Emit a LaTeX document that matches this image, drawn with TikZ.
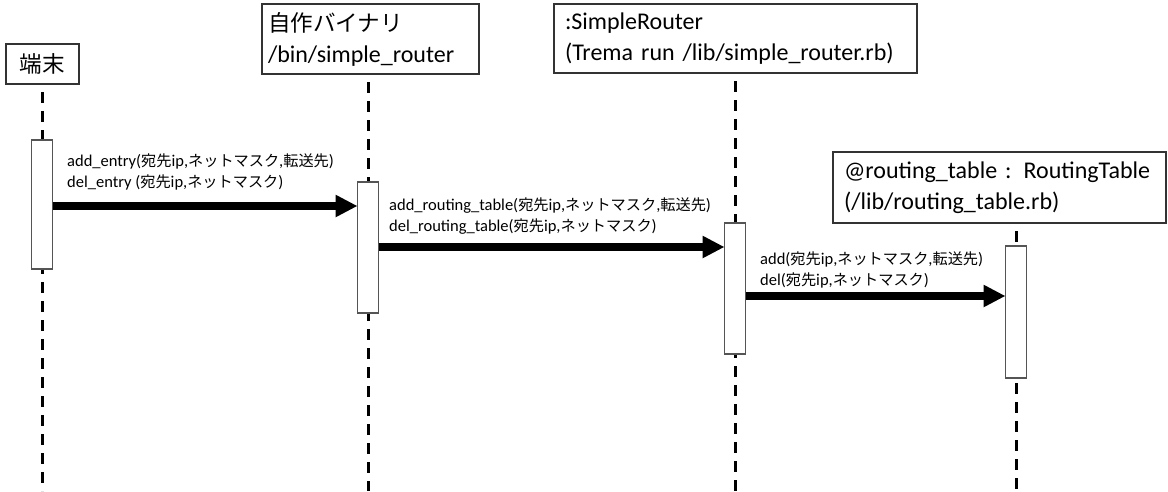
\documentclass[tikz,border=0pt]{standalone}
\usepackage{fontspec}
\setmainfont{Carlito}
\newfontfamily\jplabel[Scale=0.92]{Noto Sans CJK JP}
\newfontfamily\jphead[Scale=0.94]{Noto Sans CJK JP}
\newcommand{\ja}[1]{{\jplabel #1}}
\newcommand{\jh}[1]{{\jphead #1}}
\usetikzlibrary{arrows.meta, positioning}
\definecolor{boxline}{HTML}{333333}
\definecolor{actline}{HTML}{555555}
\tikzset{
  objbox/.style  = {rectangle, draw=boxline, line width=1.5pt, fill=white, align=left,
                    anchor=north west, outer sep=0pt, inner ysep=0pt,
                    font=\fontsize{24}{31}\selectfont},
  actbox/.style  = {rectangle, draw=actline, line width=1.2pt, fill=white, anchor=north,
                    minimum width=21pt, inner sep=0pt, outer sep=0pt},
  msglbl/.style  = {anchor=west, align=left, inner sep=4pt, font=\fontsize{16.5}{20.5}\selectfont},
  msg/.style     = {-{Triangle[length=22pt, width=21pt]}, line width=7.5pt},
  lifeline/.style= {line width=3pt, dash pattern=on 11pt off 8pt, dash phase=11pt},
}
\begin{document}
\begin{tikzpicture}[x=1pt, y=-1pt]
\useasboundingbox (0,0) rectangle (1168,491);
% objects
\node[objbox, align=center, minimum width=73pt, minimum height=40pt] (h1) at (6,44) {\jh{端末}};
\node[objbox, inner xsep=6pt, text width=205pt, minimum height=70pt] (h2) at (262,4)
  {\jh{自作バイナリ}\\/bin/simple\_router};
\node[objbox, inner xsep=11pt, text width=341pt, minimum height=69pt] (h3) at (554,4)
  {:SimpleRouter\\(Trema run /lib/simple\_router.rb)};
\node[objbox, inner xsep=11pt, text width=311pt, minimum height=71pt] (h4) at (833,152)
  {@routing\_table : RoutingTable\\(/lib/routing\_table.rb)};
% lifelines
\foreach \i/\x in {1/42,2/368,3/735,4/1016}{
  \draw[lifeline] (h\i.south -| \x,0) -- (\x,491);
}
% activations
\node[actbox, minimum height=129pt] (a1) at (42,140) {};
\node[actbox, minimum height=131pt] (a2) at (368,182) {};
\node[actbox, minimum height=131pt] (a3) at (735,223) {};
\node[actbox, minimum height=132pt] (a4) at (1016,246) {};
% messages
\coordinate (m1) at (0,206);
\coordinate (m2) at (0,247);
\coordinate (m3) at (0,296);
\foreach \a/\b in {1/2,2/3,3/4}{
  \draw[msg] (a\a.east |- m\a) -- (a\b.west |- m\a);
}
\node[msglbl] (t1) at (63,172)
  {add\_entry(\ja{宛先}ip,\ja{ネットマスク},\ja{転送先})\\del\_entry (\ja{宛先}ip,\ja{ネットマスク})};
\node[msglbl] (t2) at (385,216)
  {add\_routing\_table(\ja{宛先}ip,\ja{ネットマスク},\ja{転送先})\\del\_routing\_table(\ja{宛先}ip,\ja{ネットマスク})};
\node[msglbl] (t3) at (756,270)
  {add(\ja{宛先}ip,\ja{ネットマスク},\ja{転送先})\\del(\ja{宛先}ip,\ja{ネットマスク})};
\end{tikzpicture}
\end{document}
